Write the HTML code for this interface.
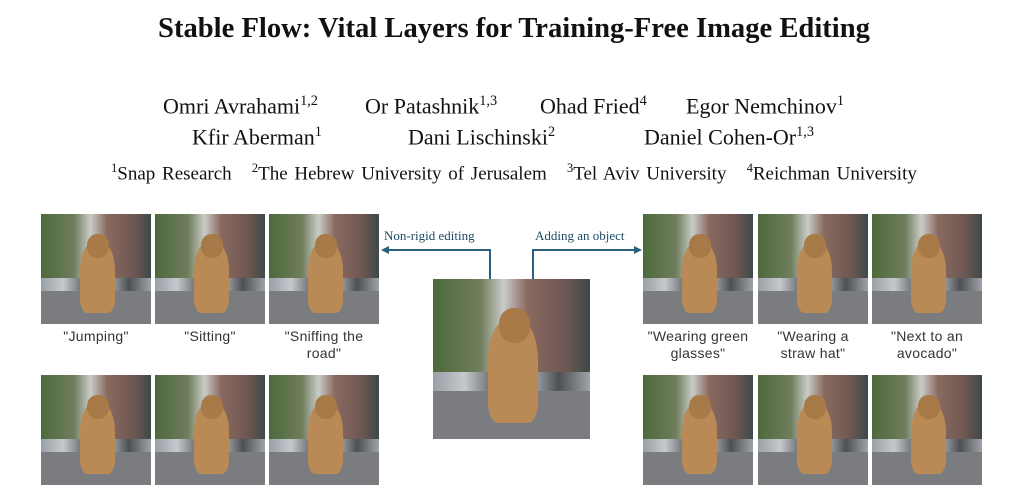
<!DOCTYPE html>
<html><head><meta charset="utf-8"><style>
body{margin:0;width:1028px;height:431px;overflow:hidden;background:#fff;position:relative;font-family:"Liberation Serif",serif;color:#111}
.abs{position:absolute}
.title{left:0;width:1028px;top:13px;text-align:center;font-weight:bold;font-size:28.6px}
.au{position:absolute;font-size:22px;white-space:nowrap}
.aff{left:0;width:1028px;top:161px;text-align:center;font-size:19px;word-spacing:2px}
sup{font-size:0.65em}
.img{position:absolute;overflow:hidden;background:linear-gradient(90deg,#4d6a3c 0%,#6f7d5c 30%,#c9ccc8 45%,#8a6a60 60%,#6d5652 85%,#3c4a48 100%)}
.img .road{position:absolute;left:0;right:0;bottom:0;height:30%;background:#7a7c80}
.img .cars{position:absolute;left:0;right:0;bottom:28%;height:14%;background:linear-gradient(90deg,#9a9fa6,#c6c8cc 20%,#5e6468 40%,#b8bcc0 60%,#4b5055 80%,#a0a4a8)}
.img .dog{position:absolute;left:35%;width:32%;top:25%;height:65%;background:#b98a55;border-radius:40% 40% 20% 20%}
.img .head{position:absolute;left:42%;width:20%;top:18%;height:22%;background:#a87a48;border-radius:45%}
.cap{position:absolute;width:110px;text-align:center;font-family:"Liberation Sans",sans-serif;font-size:14px;letter-spacing:0.3px;color:#333;line-height:17px}
.lbl{position:absolute;font-size:13px;color:#1d4a63}
</style></head><body>
<div class="abs title">Stable Flow: Vital Layers for Training-Free Image Editing</div>
<div class="au" style="left:163px;top:93px">Omri Avrahami<sup>1,2</sup></div>
<div class="au" style="left:365px;top:93px">Or Patashnik<sup>1,3</sup></div>
<div class="au" style="left:540px;top:93px">Ohad Fried<sup>4</sup></div>
<div class="au" style="left:686px;top:93px">Egor Nemchinov<sup>1</sup></div>
<div class="au" style="left:192px;top:124px">Kfir Aberman<sup>1</sup></div>
<div class="au" style="left:408px;top:124px">Dani Lischinski<sup>2</sup></div>
<div class="au" style="left:644px;top:124px">Daniel Cohen-Or<sup>1,3</sup></div>
<div class="abs aff"><sup>1</sup>Snap Research &nbsp; <sup>2</sup>The Hebrew University of Jerusalem &nbsp; <sup>3</sup>Tel Aviv University &nbsp; <sup>4</sup>Reichman University</div>
<svg class="abs" style="left:0;top:0" width="1028" height="431">
<path d="M490 279 V250 H385" fill="none" stroke="#2c5f7c" stroke-width="2"/>
<path d="M381 250 l8 -4 v8z" fill="#2c5f7c"/>
<path d="M533 279 V250 H638" fill="none" stroke="#2c5f7c" stroke-width="2"/>
<path d="M642 250 l-8 -4 v8z" fill="#2c5f7c"/>
</svg>
<div class="lbl" style="left:384px;top:228px">Non-rigid editing</div>
<div class="lbl" style="left:535px;top:228px">Adding an object</div>
<div id="root"></div>
<script>
const root=document.getElementById('root');
function img(x,y,w,h,name){
  const d=document.createElement('div');
  d.className='img';
  d.style.cssText=`left:${x}px;top:${y}px;width:${w}px;height:${h}px`;
  
  
  d.innerHTML='<div class="cars"></div><div class="road"></div><div class="dog"></div><div class="head"></div>';
  root.appendChild(d);
}
const xs=[41,155,269,643,758,872];
const caps=['"Jumping"','"Sitting"','"Sniffing the road"','"Wearing green glasses"','"Wearing a straw hat"','"Next to an avocado"'];
xs.forEach((x,i)=>{
  img(x,214,110,110,'edited-image-'+(i+1));
  img(x,375,110,110,'edited-image-row2-'+(i+1));
  const c=document.createElement('div');
  c.className='cap';
  c.style.left=(x+2)+'px';c.style.width='106px';c.style.top='328px';
  c.textContent=caps[i];
  
  
  root.appendChild(c);
});
img(433,279,157,160,'source-image');
</script>
</body></html>
